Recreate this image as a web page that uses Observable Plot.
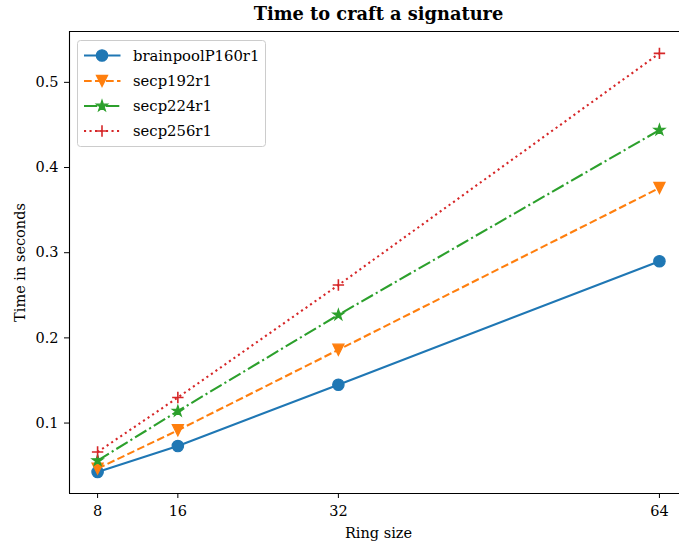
<!DOCTYPE html>
<html><head><meta charset="utf-8">
<script src="https://cdn.jsdelivr.net/npm/d3@7"></script>
<script src="https://cdn.jsdelivr.net/npm/@observablehq/plot@0.6"></script>
<style>body{margin:0;background:#fff} svg{display:block}</style>
</head><body><div id="chart"></div>
<script>
const ringSizes = [8, 16, 32, 64];
const curveNames = ["brainpoolP160r1", "secp192r1", "secp224r1", "secp256r1"];
const brainpoolP160r1 = [0.0426, 0.073, 0.145, 0.290];
const secp192r1 = [0.0465, 0.0915, 0.186, 0.376];
const secp224r1 = [0.056, 0.114, 0.227, 0.444];
const secp256r1 = [0.066, 0.130, 0.262, 0.534];
const xTicks = [8, 16, 32, 64];
const yTicks = [0.1, 0.2, 0.3, 0.4, 0.5];
const title = "Time to craft a signature";
const xLabel = "Ring size";
const yLabel = "Time in seconds";

const seriesValues = [brainpoolP160r1, secp192r1, secp224r1, secp256r1];
const colors = ["#1f77b4", "#ff7f0e", "#2ca02c", "#d62728"];
const dashes = [null, "7.7,3.3", "13.3,3.3,2.1,3.3", "2.1,3.4"];

// matplotlib-like marker shapes (radius taken as r)
const rad = size => Math.sqrt(size / Math.PI);
const symCircle = {draw(c, size){ const r = rad(size); c.moveTo(r, 0); c.arc(0, 0, r, 0, 2*Math.PI); c.closePath(); }};
const symTriDown = {draw(c, size){ const r = rad(size); c.moveTo(0, r); c.lineTo(-r, -r); c.lineTo(r, -r); c.closePath(); }};
const symStar = {draw(c, size){ const r = rad(size), ri = r*0.381966;
  for (let i = 0; i < 10; i++) { const a = -Math.PI/2 + i*Math.PI/5; const rr = i % 2 ? ri : r;
    const x = rr*Math.cos(a), y = rr*Math.sin(a); if (i === 0) c.moveTo(x, y); else c.lineTo(x, y); }
  c.closePath(); }};
const symPlus = {draw(c, size){ const r = rad(size); c.moveTo(-r, 0); c.lineTo(r, 0); c.moveTo(0, -r); c.lineTo(0, r); }};
const symbols = [symCircle, symTriDown, symStar, symPlus];
const markerR = [5.7, 5.6, 5.8, 5.7];
const filled = [true, true, true, false];

const rows = [];
curveNames.forEach((name, i) => seriesValues[i].forEach((v, j) => rows.push({curve: name, x: ringSizes[j], y: v})));

const xDomain = [5.2, 66.0];
const yDomain = [0.0173, 0.5597];

const marks = [];
curveNames.forEach((name, i) => {
  const data = rows.filter(d => d.curve === name);
  marks.push(Plot.line(data, {x: "x", y: "y", stroke: colors[i], strokeWidth: 2.1,
    strokeDasharray: dashes[i] || undefined, strokeLinecap: "butt", strokeLinejoin: "round"}));
  marks.push(Plot.dot(data, {x: "x", y: "y", symbol: symbols[i], r: markerR[i],
    fill: filled[i] ? colors[i] : "none", stroke: colors[i], strokeWidth: filled[i] ? 1.2 : 1.6}));
});

const chart = Plot.plot({
  width: 679, height: 546,
  marginLeft: 69, marginRight: 0, marginTop: 31, marginBottom: 53,
  style: {fontFamily: "'DejaVu Serif', serif", fontSize: "14px", color: "#000", background: "#fff"},
  x: {domain: xDomain},
  y: {domain: yDomain},
  marks: [
    ...marks,
    Plot.ruleY([yDomain[0]], {stroke: "#000", strokeWidth: 1.1}),
    Plot.ruleY([yDomain[1]], {stroke: "#000", strokeWidth: 1.1}),
    Plot.ruleX([xDomain[0]], {stroke: "#000", strokeWidth: 1.1}),
    Plot.axisX(xTicks, {tickSize: 5, tickPadding: 7, label: null, fontSize: 14.5}),
    Plot.axisY(yTicks, {tickSize: 5, tickPadding: 6, label: null, fontSize: 14.5, tickFormat: d3.format(".1f")}),
    Plot.text([title], {frameAnchor: "top", dy: -17, dx: 4, fontWeight: "bold", fontSize: 17.8, lineAnchor: "middle", textAnchor: "middle"}),
    Plot.text([xLabel], {frameAnchor: "bottom", dy: 40, dx: 4, fontSize: 14.5, lineAnchor: "middle", textAnchor: "middle"}),
    Plot.text([yLabel], {frameAnchor: "left", dx: -49, rotate: -90, fontSize: 14.5, lineAnchor: "middle", textAnchor: "middle"})
  ]
});
document.getElementById("chart").appendChild(chart);

// legend
const svg = d3.select(chart);
const lg = svg.append("g").attr("font-family", "'DejaVu Serif', serif").attr("font-size", 14.8).attr("text-anchor", "start");
lg.append("rect").attr("x", 77.5).attr("y", 40.5).attr("width", 188).attr("height", 106).attr("rx", 3)
  .attr("fill", "#fff").attr("fill-opacity", 0.8).attr("stroke", "#cccccc").attr("stroke-width", 1);
const rowY = [55.5, 81, 106, 131];
curveNames.forEach((name, i) => {
  const y = rowY[i];
  lg.append("line").attr("x1", 84).attr("x2", 120.5).attr("y1", y).attr("y2", y)
    .attr("stroke", colors[i]).attr("stroke-width", 2.1).attr("stroke-linecap", "butt")
    .attr("stroke-dasharray", dashes[i]);
  const r = markerR[i];
  lg.append("path").attr("transform", `translate(102,${y})`)
    .attr("d", d3.symbol(symbols[i], Math.PI*r*r)())
    .attr("fill", filled[i] ? colors[i] : "none").attr("stroke", colors[i]).attr("stroke-width", filled[i] ? 1.2 : 1.6);
  lg.append("text").attr("x", 133).attr("y", y).attr("dy", "0.35em").attr("text-anchor", "start").attr("fill", "#000").text(name);
});
</script></body></html>
